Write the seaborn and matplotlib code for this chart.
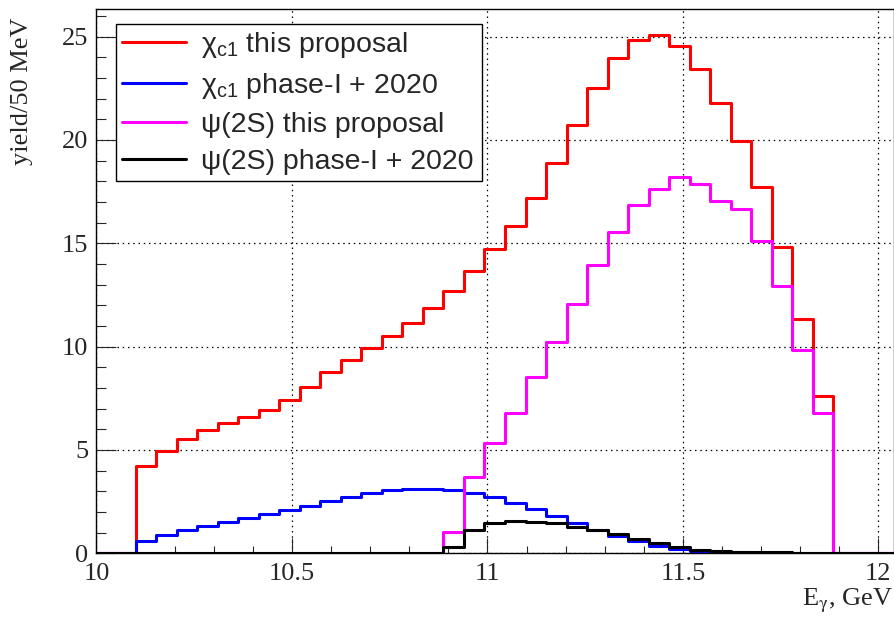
import numpy as np
import pandas as pd
import matplotlib
matplotlib.use("Agg")
import matplotlib.pyplot as plt
import seaborn as sns

# Histogram binning (GeV): 34 bins starting at 10.1
bin_start = 10.1
bin_width = 0.0525
x_min, x_max = 10.0, 12.04

series_names = [
    r"χ$_{\mathrm{c1}}$ this proposal",
    r"χ$_{\mathrm{c1}}$ phase-I + 2020",
    "ψ(2S) this proposal",
    "ψ(2S) phase-I + 2020",
]
series_colors = ["#ff0000", "#0000ff", "#ff00ff", "#000000"]

chi_c1_proposal = [4.22, 4.96, 5.51, 5.96, 6.32, 6.61, 6.93, 7.42, 8.06, 8.77,
                   9.35, 9.95, 10.53, 11.13, 11.88, 12.69, 13.68, 14.72, 15.85, 17.2,
                   18.87, 20.73, 22.50, 23.95, 24.84, 25.10, 24.55, 23.42, 21.81, 19.95,
                   17.71, 14.84, 11.32, 7.61]
chi_c1_phase1 = [0.61, 0.88, 1.12, 1.32, 1.51, 1.70, 1.90, 2.09, 2.30, 2.51,
                 2.74, 2.93, 3.06, 3.12, 3.10, 3.04, 2.90, 2.74, 2.45, 2.12,
                 1.80, 1.45, 1.12, 0.84, 0.57, 0.36, 0.20, 0.10, 0.06, 0.04,
                 0.03, 0.02, 0.01, 0.01]
psi2s_proposal = [0, 0, 0, 0, 0, 0, 0, 0, 0, 0,
                  0, 0, 0, 0, 0, 1.04, 3.67, 5.33, 6.77, 8.52,
                  10.21, 12.05, 13.93, 15.56, 16.85, 17.61, 18.19, 17.87, 17.06, 16.66,
                  15.11, 12.93, 9.84, 6.77]
psi2s_phase1 = [0, 0, 0, 0, 0, 0, 0, 0, 0, 0,
                0, 0, 0, 0, 0, 0.28, 1.12, 1.45, 1.56, 1.53,
                1.45, 1.28, 1.12, 0.93, 0.69, 0.48, 0.28, 0.17, 0.11, 0.08,
                0.06, 0.04, 0.03, 0.02]

all_series = [chi_c1_proposal, chi_c1_phase1, psi2s_proposal, psi2s_phase1]

# Build step outlines: empty range before/after the filled bins drawn along zero
n_bins = len(chi_c1_proposal)
edges = bin_start + bin_width * np.arange(n_bins + 1)
frames = []
for name, vals in zip(series_names, all_series):
    xs = np.concatenate([[x_min], edges, [x_max]])
    ys = np.concatenate([[0.0], vals, [0.0, 0.0]])
    frames.append(pd.DataFrame({"E": xs, "yield": ys, "sample": name}))
df = pd.concat(frames, ignore_index=True)

sns.set_style("white")
plt.rcParams["mathtext.fontset"] = "custom"
plt.rcParams["mathtext.rm"] = "Liberation Sans"
plt.rcParams["mathtext.it"] = "Liberation Sans:italic"
plt.rcParams["mathtext.sf"] = "Liberation Sans"

fig = plt.figure(figsize=(8.95, 6.21), dpi=100)
ax = fig.add_axes([0.1078, 0.1092, 0.8911, 0.8763])

sns.lineplot(data=df, x="E", y="yield", hue="sample", palette=series_colors,
             hue_order=series_names, drawstyle="steps-post", estimator=None,
             sort=False, linewidth=2.2, ax=ax, legend=False)

ax.set_xlim(x_min, x_max)
ax.set_ylim(0, 26.34)

# ticks: inward, major + minor, left/bottom only
ax.set_xticks([10, 10.5, 11, 11.5, 12])
ax.set_xticklabels(["10", "10.5", "11", "11.5", "12"])
ax.set_xticks(np.arange(10.1, 12.04, 0.1), minor=True)
ax.set_yticks([0, 5, 10, 15, 20, 25])
ax.set_yticks(np.arange(0, 26.5, 1), minor=True)
ax.tick_params(axis="x", which="major", direction="in", length=10.8, width=0.8,
               pad=7, labelsize=19, bottom=True, top=False)
ax.tick_params(axis="x", which="minor", direction="in", length=5.2, width=0.8,
               bottom=True, top=False)
ax.tick_params(axis="y", which="major", direction="in", length=14.4, width=0.8,
               pad=6, labelsize=19, left=True, right=False)
ax.tick_params(axis="y", which="minor", direction="in", length=7.2, width=0.8,
               left=True, right=False)
for lab in ax.get_xticklabels() + ax.get_yticklabels():
    lab.set_fontfamily("Liberation Serif")

ax.grid(True, which="major", color="black", linestyle=(0, (1.2, 3.0)), linewidth=0.9)
ax.set_axisbelow(True)
for sp in ax.spines.values():
    sp.set_visible(True)
    sp.set_color("black")
    sp.set_linewidth(1.0)

ax.set_ylabel("yield/50 MeV", fontfamily="Liberation Serif", fontsize=19)
ax.yaxis.set_label_coords(-0.079, 0.985)
ax.yaxis.label.set_horizontalalignment("right")
ax.set_xlabel(r"E$_{\mathrm{\gamma}}$, GeV", fontfamily="Liberation Serif", fontsize=19,
              math_fontfamily="stix")
ax.xaxis.set_label_coords(0.999, -0.062)
ax.xaxis.label.set_horizontalalignment("right")

handles = ax.get_lines()[:4]
leg = ax.legend(handles, series_names, loc="upper left",
                bbox_to_anchor=(0.0245, 0.9725, 0.4585, 0.0), mode="expand",
                borderaxespad=0, frameon=True, fancybox=False, framealpha=1,
                edgecolor="black", prop={"family": "Liberation Sans", "size": 20.5},
                handlelength=2.25, handletextpad=0.5, labelspacing=0.38,
                borderpad=0.22)
leg.get_frame().set_linewidth(1.0)

fig.savefig("out.png", dpi=100, facecolor="white")
